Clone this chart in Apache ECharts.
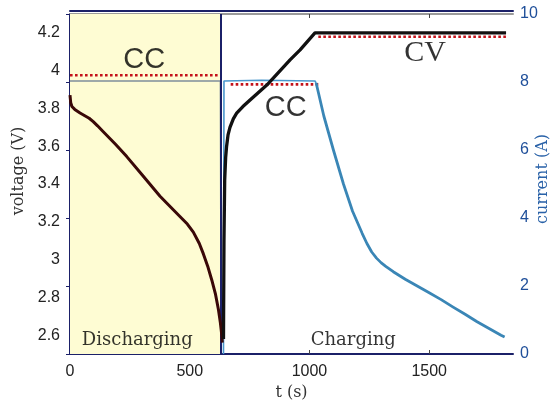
<!DOCTYPE html>
<html><head><meta charset="utf-8">
<script src="https://cdn.jsdelivr.net/npm/echarts@6/dist/echarts.min.js"></script>
<style>html,body{margin:0;padding:0;background:#fff}#c{width:550px;height:400px}</style>
</head><body><div id="c"></div>
<script>
// ---- data ----
const xTicks = [0, 500, 1000, 1500];
const vTicks = [2.6, 2.8, 3.0, 3.2, 3.4, 3.6, 3.8, 4.0, 4.2];
const iTicks = [0, 2, 4, 6, 8, 10];

const vDisT = [0, 3, 8, 20, 42, 60, 80, 97, 115, 139, 190, 237, 300, 376, 420, 459, 490, 515, 540, 557, 575, 592, 607, 620, 628, 633, 636];
const vDisV = [3.87, 3.83, 3.81, 3.795, 3.776, 3.763, 3.748, 3.73, 3.708, 3.677, 3.61, 3.545, 3.45, 3.335, 3.278, 3.228, 3.188, 3.145, 3.085, 3.03, 2.965, 2.892, 2.82, 2.734, 2.665, 2.61, 2.56];

const vChgT = [641, 643, 646, 650, 654, 660, 668, 682, 696, 722, 752, 822, 919, 961, 1023, 1045, 1821];
const vChgV = [2.58, 3.1, 3.42, 3.54, 3.60, 3.66, 3.70, 3.745, 3.775, 3.81, 3.845, 3.924, 4.057, 4.11, 4.2, 4.2, 4.2];

const iDisT = [0, 628, 631];
const iDisI = [8.03, 8.03, 0];

const iCcT = [641, 643, 800, 1023, 1028];
const iCcI = [0, 8.03, 8.05, 8.03, 7.97];

const iDecT = [1028, 1060, 1100, 1142, 1180, 1220, 1240, 1260, 1280, 1300, 1320, 1350, 1400, 1450, 1500, 1550, 1600, 1650, 1700, 1750, 1800, 1815];
const iDecI = [7.97, 7.0, 6.0, 5.0, 4.2, 3.55, 3.25, 3.0, 2.82, 2.68, 2.57, 2.42, 2.2, 2.0, 1.8, 1.6, 1.38, 1.17, 0.95, 0.75, 0.55, 0.5];

const refCcDisT = [0, 625], refCcDisI = [8.2, 8.2];
const refCcChgT = [671, 1037], refCcChgI = [7.93, 7.93];
const refCvT = [1037, 1827], refCvI = [9.33, 9.33];

const phaseEnd = 630;
const labels = [
  {t: 310, i: 8.64, text: 'CC', font: 'Liberation Sans', size: 29},
  {t: 901, i: 7.25, text: 'CC', font: 'Liberation Sans', size: 29},
  {t: 1483, i: 8.84, text: 'CV', font: 'Liberation Serif', size: 30},
  {t: 281, i: 0.41, text: 'Discharging', font: 'DejaVu Serif', size: 18},
  {t: 1183, i: 0.41, text: 'Charging', font: 'DejaVu Serif', size: 18}
];

const zip = (a, b) => a.map((v, k) => [v, b[k]]);
const navy = '#1b2068';
const redDot = {color: '#c3121a', width: 2.6, type: [2.6, 2.4]};

const chart = echarts.init(document.getElementById('c'), null, {renderer: 'canvas'});
chart.setOption({
  animation: false,
  grid: {left: 70, right: 37, top: 14, bottom: 46, containLabel: false, outerBoundsMode: 'none'},
  xAxis: [
    {type: 'value', min: 0, max: 1850, position: 'bottom',
     name: 't (s)', nameLocation: 'middle', nameGap: 28,
     nameTextStyle: {fontFamily: 'DejaVu Serif', fontSize: 16, color: '#333'},
     axisLine: {lineStyle: {color: navy, width: 2}},
     axisTick: {inside: true, length: 4, lineStyle: {color: '#444'}, customValues: xTicks},
     axisLabel: {fontFamily: 'Liberation Sans', fontSize: 16, color: '#222', margin: 10, customValues: xTicks,
                 formatter: v => String(v)},
     splitLine: {show: false}},
    {type: 'value', min: 0, max: 1850, position: 'top',
     axisLine: {lineStyle: {color: '#9a9a9a', width: 2}},
     axisTick: {inside: true, length: 4, lineStyle: {color: '#444'}, customValues: xTicks},
     axisLabel: {show: false}, splitLine: {show: false}},
    {type: 'value', min: 0, max: 1850, position: 'top', offset: 3,
     axisLine: {lineStyle: {color: navy, width: 2}},
     axisTick: {show: false}, axisLabel: {show: false}, splitLine: {show: false}}
  ],
  yAxis: [
    {type: 'value', min: 2.5, max: 4.3, position: 'left',
     name: 'voltage (V)', nameLocation: 'middle', nameGap: 40,
     nameTextStyle: {fontFamily: 'DejaVu Serif', fontSize: 16, color: '#333', padding: [0, 0, 0, 26]},
     axisLine: {show: true, lineStyle: {color: navy, width: 2}},
     axisTick: {show: true, inside: true, length: 4, lineStyle: {color: navy}, customValues: vTicks},
     axisLabel: {fontFamily: 'Liberation Sans', fontSize: 16, color: '#222', margin: 10, customValues: vTicks,
                 formatter: v => String(+v.toFixed(1))},
     splitLine: {show: false}},
    {type: 'value', min: 0, max: 10, interval: 2, position: 'right',
     name: 'current (A)', nameLocation: 'middle', nameGap: 22, nameRotate: 90, nameMoveOverlap: false,
     nameTextStyle: {fontFamily: 'DejaVu Serif', fontSize: 16, color: '#2a62a8', padding: [0, 0, 0, 10]},
     axisLine: {show: true, lineStyle: {color: navy, width: 2}},
     axisTick: {show: true, inside: true, length: 4, lineStyle: {color: navy}},
     axisLabel: {fontFamily: 'Liberation Sans', fontSize: 16, color: '#1f4f9a', margin: 7},
     splitLine: {show: false}}
  ],
  series: [
    {type: 'line', name: 'iDis', yAxisIndex: 1, data: zip(iDisT, iDisI), symbol: 'none',
     lineStyle: {color: '#7f8d9c', width: 1.5}, z: 3,
     markArea: {silent: true, itemStyle: {color: '#fefcd3'}, data: [[{xAxis: 0}, {xAxis: phaseEnd}]]},
     markLine: {silent: true, symbol: 'none', label: {show: false},
                lineStyle: {color: navy, width: 2, type: 'solid'}, data: [{xAxis: phaseEnd}]}},
    {type: 'line', name: 'refDis', yAxisIndex: 1, data: zip(refCcDisT, refCcDisI), symbol: 'none', lineStyle: redDot, z: 4},
    {type: 'line', name: 'refCc', yAxisIndex: 1, data: zip(refCcChgT, refCcChgI), symbol: 'none', lineStyle: redDot, z: 4},
    {type: 'line', name: 'refCv', yAxisIndex: 1, data: zip(refCvT, refCvI), symbol: 'none', lineStyle: redDot, z: 4},
    {type: 'line', name: 'iCc', yAxisIndex: 1, data: zip(iCcT, iCcI), symbol: 'none',
     lineStyle: {color: '#4a97cc', width: 1.6}, z: 5},
    {type: 'line', name: 'iDec', yAxisIndex: 1, data: zip(iDecT, iDecI), symbol: 'none',
     lineStyle: {color: '#3a86b6', width: 2.8, join: 'round'}, z: 5},
    {type: 'line', name: 'vDis', yAxisIndex: 0, data: zip(vDisT, vDisV), symbol: 'none',
     lineStyle: {color: '#3a0808', width: 3, join: 'round'}, z: 6},
    {type: 'line', name: 'vChg', yAxisIndex: 0, data: zip(vChgT, vChgV), symbol: 'none',
     lineStyle: {color: '#111', width: 3.3, join: 'round'}, z: 6},
    {type: 'scatter', name: 'labels', yAxisIndex: 1, symbolSize: 0, z: 10,
     data: labels.map(l => ({value: [l.t, l.i],
       label: {show: true, position: 'inside', formatter: l.text, fontFamily: l.font, fontSize: l.size, color: '#000'}}))}
  ]
});
</script></body></html>
